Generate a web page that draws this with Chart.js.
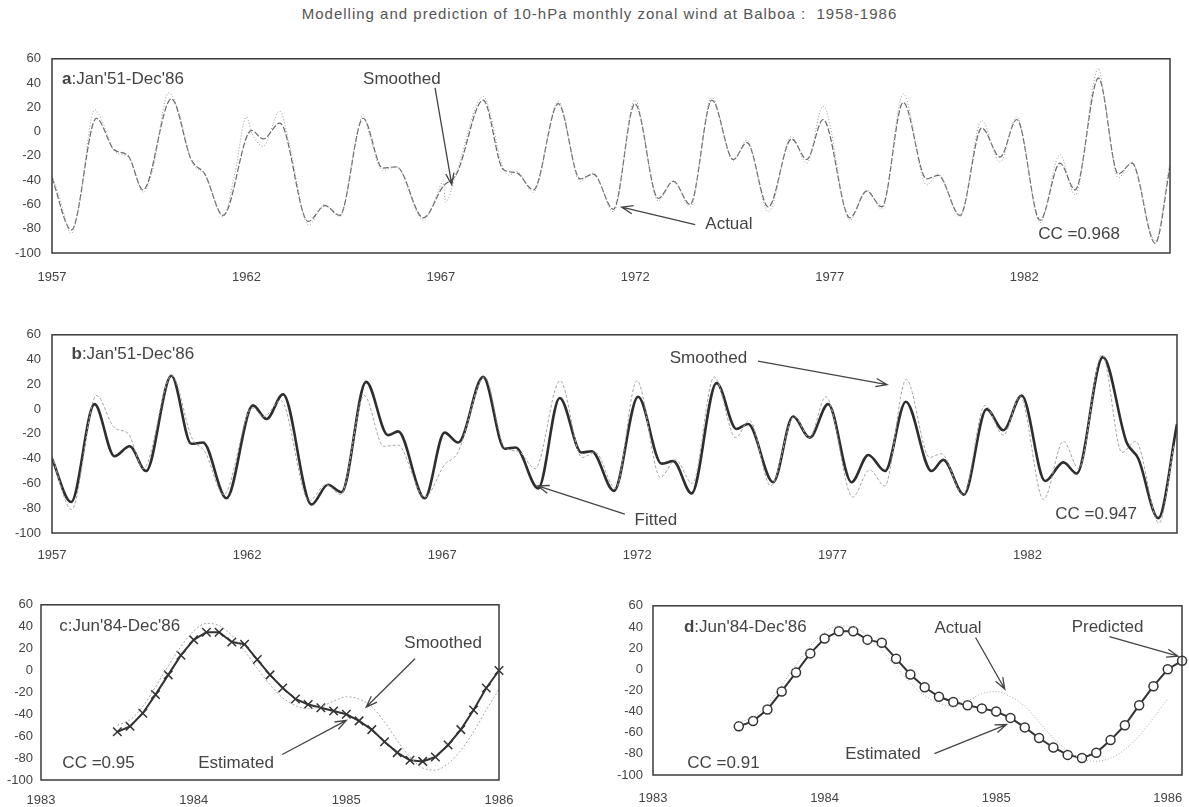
<!DOCTYPE html>
<html>
<head>
<meta charset="utf-8">
<script src="https://cdn.jsdelivr.net/npm/chart.js@4.4.0/dist/chart.umd.min.js"></script>
<style>
  body { margin: 0; background: #fff; width: 1189px; height: 807px; position: relative; overflow: hidden; font-family: Arial, "Liberation Sans", sans-serif; }
  #title { position: absolute; left: 0; top: 5px; width: 1199px; text-align: center; font-size: 15px; letter-spacing: 1px; color: #555; }
  canvas { position: absolute; }
</style>
</head>
<body>
<div id="title">Modelling and prediction of 10-hPa monthly zonal wind at Balboa :&nbsp; 1958-1986</div>
<canvas id="chartA" width="1189" height="250" style="left:0;top:40px"></canvas>
<canvas id="chartB" width="1189" height="250" style="left:0;top:316px"></canvas>
<canvas id="chartC" width="530" height="218" style="left:0;top:589px"></canvas>
<canvas id="chartD" width="602" height="219" style="left:600px;top:588px"></canvas>
<script>
// axis ticks
const yTicks = [-100, -80, -60, -40, -20, 0, 20, 40, 60];
const longTicks = [1957, 1962, 1967, 1972, 1977, 1982];
const shortTicks = [1983, 1984, 1985, 1986];

const smoothYears = [1957.0, 1957.5, 1958.14, 1958.6, 1958.96, 1959.34, 1960.07, 1960.58, 1960.93, 1961.4,
  1962.13, 1962.43, 1962.86, 1963.59, 1964.02, 1964.4, 1965.0, 1965.5, 1965.86, 1966.55,
  1967.06, 1967.4, 1968.09, 1968.6, 1968.95, 1969.38, 1970.02, 1970.58, 1970.92, 1971.44,
  1971.99, 1972.59, 1972.98, 1973.41, 1973.97, 1974.52, 1974.87, 1975.42, 1976.02, 1976.41,
  1976.83, 1977.52, 1977.95, 1978.34, 1978.89, 1979.49, 1979.79, 1980.35, 1980.91, 1981.38,
  1981.81, 1982.41, 1982.92, 1983.31, 1983.91, 1984.42, 1984.77, 1985.37, 1985.75];
const smoothWind = [-38, -81, 11, -15, -20, -48, 27, -23, -35, -69,
  1, -6, 7, -74, -61, -69, 11, -30, -29, -71,
  -45, -35, 26, -31, -34, -48, 23, -39, -35, -64,
  23, -55, -41, -60, 26, -23, -9, -62, -6, -23,
  10, -71, -49, -62, 24, -39, -36, -69, 3, -21,
  10, -73, -26, -48, 44, -35, -26, -92, -29];

// actual (noisy) wind, panel a
const actualYears = [1957.0, 1957.2, 1957.5, 1957.7, 1958.1, 1958.3, 1958.6, 1959.0, 1959.35, 1959.6,
  1960.0, 1960.2, 1960.6, 1960.95, 1961.4, 1961.7, 1962.0, 1962.15, 1962.43, 1962.86,
  1963.1, 1963.6, 1964.0, 1964.4, 1964.8, 1965.0, 1965.15, 1965.5, 1965.86, 1966.55,
  1966.9, 1967.06, 1967.12, 1967.4, 1968.09, 1968.6, 1968.75, 1968.95, 1969.38, 1970.02,
  1970.58, 1970.92, 1971.44, 1971.99, 1972.59, 1972.98, 1973.41, 1973.97, 1974.52, 1974.87,
  1975.42, 1976.02, 1976.41, 1976.83, 1977.52, 1977.95, 1978.34, 1978.89, 1979.49, 1979.79,
  1980.35, 1980.91, 1981.38, 1981.81, 1982.41, 1982.92, 1983.31, 1983.91, 1984.05, 1984.42,
  1984.77, 1985.37, 1985.75];
const actualWind = [-36, -55, -84, -60, 18, 8, -16, -22, -50, -30,
  32, 22, -25, -36, -70, -35, 12, -2, -12, 17,
  -10, -77, -60, -70, -10, 14, -1, -32, -29, -73,
  -52, -41, -58, -34, 29, -30, -36, -33, -50, 25,
  -41, -34, -66, 26, -57, -40, -62, 28, -24, -7,
  -66, -4, -26, 21, -73, -48, -64, 31, -44, -35,
  -70, 9, -25, 12, -75, -19, -52, 52, 30, -38,
  -25, -90, -25];

// fitted wind, panel b
const fittedYears = [1957.0, 1957.49, 1958.09, 1958.6, 1958.99, 1959.41, 1960.06, 1960.57, 1960.87, 1961.47,
  1962.15, 1962.5, 1962.92, 1963.65, 1964.07, 1964.42, 1965.05, 1965.61, 1965.87, 1966.55,
  1967.06, 1967.41, 1968.05, 1968.6, 1968.88, 1969.46, 1970.01, 1970.57, 1970.83, 1971.4,
  1972.02, 1972.62, 1972.92, 1973.39, 1974.03, 1974.54, 1974.84, 1975.48, 1975.99, 1976.42,
  1976.89, 1977.49, 1977.92, 1978.35, 1978.88, 1979.54, 1979.84, 1980.37, 1980.95, 1981.38,
  1981.85, 1982.45, 1982.92, 1983.26, 1983.93, 1984.54, 1984.84, 1985.35, 1985.83];
const fittedWind = [-40, -75, 4, -38, -30, -50, 27, -28, -27, -72,
  3, -8, 12, -77, -61, -67, 22, -21, -18, -72,
  -19, -27, 26, -32, -31, -64, 9, -35, -34, -66,
  10, -44, -42, -68, 21, -16, -12, -59, -6, -23,
  4, -59, -37, -50, 6, -50, -41, -69, 0, -17,
  11, -58, -43, -52, 42, -27, -40, -88, -12];

// panels c/d: monthly values starting Jun'84 (plotted from 1983.5 on the axis)
const zoomStart = 1983.5;
const estimatedC = [-56, -51, -39, -22, -4, 14, 28, 35, 35, 26, 24, 10, -4, -16, -26, -31,
  -34, -37, -40, -46, -54, -65, -75, -82, -83, -79, -68, -54, -36, -16, 0];
const smoothedC = [-50, -45, -33, -15, 4, 22, 36, 43, 41, 32, 18, 2, -13, -25, -32, -35,
  -33, -28, -24, -26, -33, -47, -64, -79, -89, -91, -85, -73, -56, -36, -17];
const estimatedD = [-54, -49, -38, -21, -3, 15, 29, 36, 36, 28, 25, 10, -5, -17, -26, -31,
  -34, -37, -40, -46, -55, -65, -74, -81, -84, -79, -67, -53, -34, -16, 0, 8];
const actualD = [-50, -45, -33, -15, 4, 22, 35, 41, 40, 32, 18, 2, -13, -25, -32, -35,
  -30, -23, -21, -26, -35, -50, -65, -77, -85, -87, -84, -76, -63, -46, -28];

function pts(xs, ys) {
  return xs.map((x, i) => ({ x: x, y: ys[i] }));
}
function monthly(vals) {
  return vals.map((v, i) => ({ x: zoomStart + i / 12, y: v }));
}

const fontFamily = 'Arial, "Liberation Sans", sans-serif';
Chart.defaults.font.family = fontFamily;
Chart.defaults.color = '#444';

// frame box, texts and arrows
const notesPlugin = {
  id: 'notes',
  afterDraw(chart, args, o) {
    const ctx = chart.ctx, xs = chart.scales.x, ys = chart.scales.y, a = chart.chartArea;
    ctx.save();
    ctx.strokeStyle = '#3a3a3a';
    ctx.lineWidth = 1.5;
    ctx.strokeRect(a.left, a.top, a.right - a.left, a.bottom - a.top);
    ctx.fillStyle = '#444';
    ctx.textBaseline = 'middle';
    (o.texts || []).forEach(t => {
      let px = xs.getPixelForValue(t.x), py = ys.getPixelForValue(t.y);
      const size = t.size || 17;
      if (t.bold) {
        ctx.font = 'bold ' + size + 'px ' + fontFamily;
        ctx.fillText(t.bold, px, py);
        px += ctx.measureText(t.bold).width;
      }
      ctx.font = size + 'px ' + fontFamily;
      ctx.fillText(t.text, px, py);
    });
    ctx.strokeStyle = '#444';
    ctx.lineWidth = 1.3;
    (o.arrows || []).forEach(ar => {
      const x1 = xs.getPixelForValue(ar[0]), y1 = ys.getPixelForValue(ar[1]);
      const x2 = xs.getPixelForValue(ar[2]), y2 = ys.getPixelForValue(ar[3]);
      const ang = Math.atan2(y2 - y1, x2 - x1);
      ctx.beginPath();
      ctx.moveTo(x1, y1);
      ctx.lineTo(x2, y2);
      ctx.moveTo(x2 - 12 * Math.cos(ang - 0.35), y2 - 12 * Math.sin(ang - 0.35));
      ctx.lineTo(x2, y2);
      ctx.lineTo(x2 - 12 * Math.cos(ang + 0.35), y2 - 12 * Math.sin(ang + 0.35));
      ctx.stroke();
    });
    ctx.restore();
  }
};

function makePanel(id, p) {
  return new Chart(document.getElementById(id), {
    type: 'line',
    data: { datasets: p.datasets },
    plugins: [notesPlugin],
    options: {
      responsive: false,
      animation: false,
      devicePixelRatio: 1,
      layout: { padding: { left: 0, right: p.padRight, top: p.padTop, bottom: 0 } },
      plugins: {
        legend: { display: false },
        tooltip: { enabled: false },
        notes: { texts: p.texts, arrows: p.arrows }
      },
      scales: {
        x: {
          type: 'linear',
          min: p.xMin,
          max: p.xMax,
          grid: { display: false, drawTicks: false },
          border: { display: false },
          afterBuildTicks: s => { s.ticks = p.xTicks.map(v => ({ value: v })); },
          afterFit: s => { s.height = p.xHeight; },
          ticks: { padding: p.xPad, color: '#444', font: { size: 13 }, maxRotation: 0, autoSkip: false,
                   callback: v => String(v) }
        },
        y: {
          min: -100,
          max: 60,
          grid: { display: false, drawTicks: false },
          border: { display: false },
          afterBuildTicks: s => { s.ticks = yTicks.map(v => ({ value: v })); },
          afterFit: s => { s.width = p.yWidth; },
          ticks: { padding: p.yPad, color: '#444', font: { size: 13 } }
        }
      }
    }
  });
}

// a: actual vs smoothed
makePanel('chartA', {
  xMin: 1957, xMax: 1985.75, xTicks: longTicks,
  yWidth: 52, yPad: 11, xHeight: 37, xPad: 17, padRight: 19, padTop: 6,
  datasets: [
    { data: pts(actualYears, actualWind), borderColor: '#9c9c9c', borderWidth: 1, borderDash: [1, 2],
      pointRadius: 0, cubicInterpolationMode: 'monotone' },
    { data: pts(smoothYears, smoothWind), borderColor: '#686868', borderWidth: 1.2, borderDash: [6, 2],
      pointRadius: 0, cubicInterpolationMode: 'monotone' }
  ],
  texts: [
    { x: 1957.26, y: 43, bold: 'a', text: ":Jan'51-Dec'86" },
    { x: 1965.0, y: 43, text: 'Smoothed' },
    { x: 1973.8, y: -76, text: 'Actual' },
    { x: 1982.36, y: -84.5, text: 'CC =0.968' }
  ],
  arrows: [[1966.85, 36, 1967.28, -43.6], [1973.54, -76.6, 1971.65, -62.2]]
});

// b: fitted vs smoothed
makePanel('chartB', {
  xMin: 1957, xMax: 1985.83, xTicks: longTicks,
  yWidth: 52, yPad: 11, xHeight: 33, xPad: 15, padRight: 12, padTop: 6,
  datasets: [
    { data: pts(smoothYears, smoothWind), borderColor: '#a4a4a4', borderWidth: 1, borderDash: [3, 2],
      pointRadius: 0, cubicInterpolationMode: 'monotone' },
    { data: pts(fittedYears, fittedWind), borderColor: '#2e2e2e', borderWidth: 2.6,
      pointRadius: 0, cubicInterpolationMode: 'monotone' }
  ],
  texts: [
    { x: 1957.5, y: 44, bold: 'b', text: ":Jan'51-Dec'86" },
    { x: 1972.83, y: 41, text: 'Smoothed' },
    { x: 1971.93, y: -90, text: 'Fitted' },
    { x: 1982.71, y: -84.8, text: 'CC =0.947' }
  ],
  arrows: [[1975.09, 38.8, 1978.4, 19.8], [1971.68, -84.8, 1969.45, -62]]
});

// c: estimated vs smoothed
makePanel('chartC', {
  xMin: 1983, xMax: 1986, xTicks: shortTicks,
  yWidth: 41, yPad: 8, xHeight: 27, xPad: 13, padRight: 31, padTop: 6,
  datasets: [
    { data: monthly(smoothedC), borderColor: '#a8a8a8', borderWidth: 1, borderDash: [2, 2],
      pointRadius: 0, cubicInterpolationMode: 'monotone' },
    { data: monthly(estimatedC), borderColor: '#333', borderWidth: 2, tension: 0, clip: false,
      pointStyle: 'crossRot', pointRadius: 6, pointBorderWidth: 1.5, pointBorderColor: '#333' }
  ],
  texts: [
    { x: 1983.12, y: 40, text: "c:Jun'84-Dec'86" },
    { x: 1985.38, y: 24.5, text: 'Smoothed' },
    { x: 1984.03, y: -84.5, text: 'Estimated' },
    { x: 1983.14, y: -84.5, text: 'CC =0.95' }
  ],
  arrows: [[1985.45, 10.7, 1985.13, -33.4], [1984.58, -76.7, 1985.0, -45.5]]
});

// d: estimated (with prediction) vs actual
makePanel('chartD', {
  xMin: 1983, xMax: 1986.083, xTicks: shortTicks,
  yWidth: 53, yPad: 10, xHeight: 32, xPad: 16, padRight: 20, padTop: 6,
  datasets: [
    { data: monthly(actualD), borderColor: '#a8a8a8', borderWidth: 1, borderDash: [1, 2],
      pointRadius: 0, cubicInterpolationMode: 'monotone' },
    { data: monthly(estimatedD), borderColor: '#333', borderWidth: 2, tension: 0, clip: false,
      pointStyle: 'circle', pointRadius: 4.5, pointBorderWidth: 1.5, pointBorderColor: '#333',
      pointBackgroundColor: '#fff' }
  ],
  texts: [
    { x: 1983.18, y: 40, bold: 'd', text: ":Jun'84-Dec'86" },
    { x: 1984.64, y: 38.8, text: 'Actual' },
    { x: 1985.44, y: 39.7, text: 'Predicted' },
    { x: 1984.12, y: -80.6, text: 'Estimated' },
    { x: 1983.2, y: -89.4, text: 'CC =0.91' }
  ],
  arrows: [[1984.88, 30, 1985.05, -18.7], [1985.66, 30.8, 1986.06, 12.3], [1984.64, -79.7, 1985.06, -52.3]]
});
</script>
</body>
</html>
